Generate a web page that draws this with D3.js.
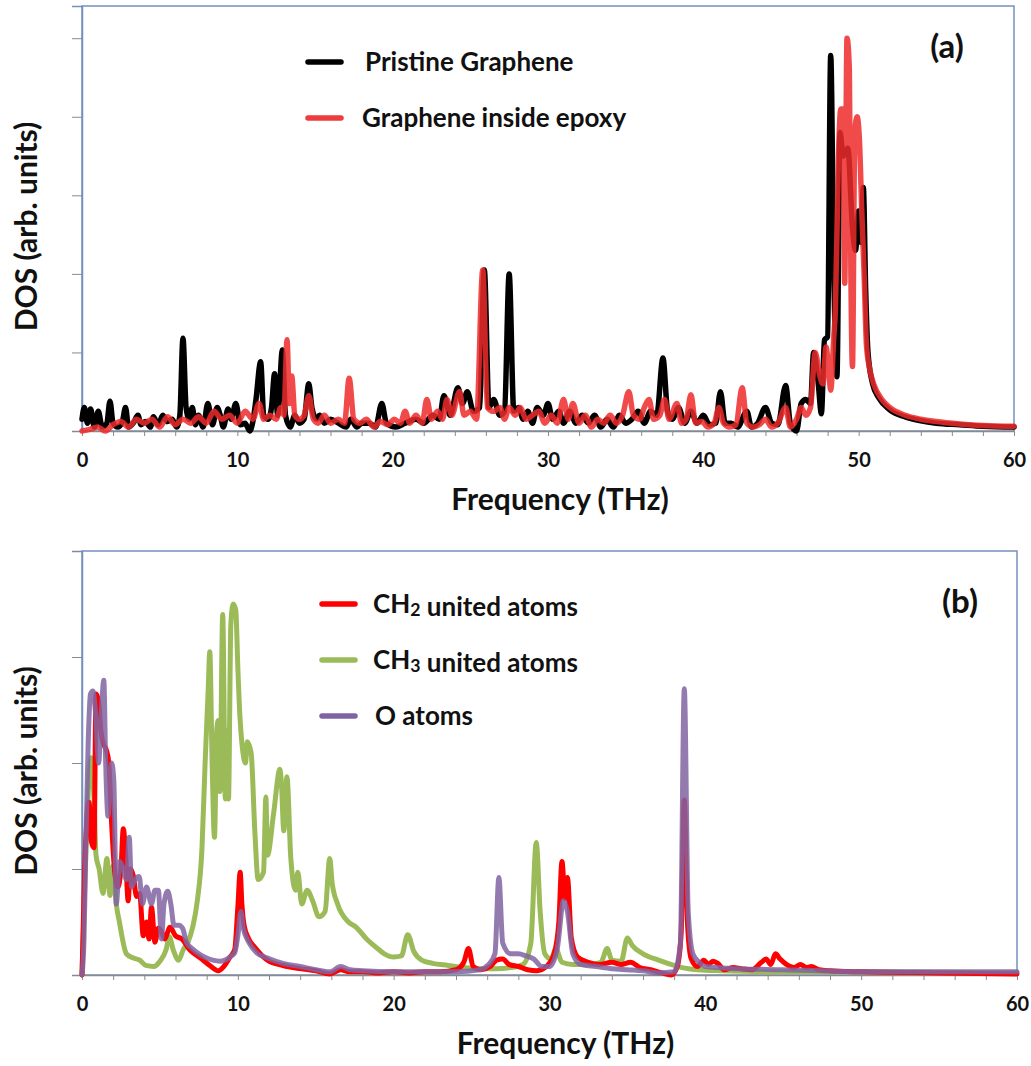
<!DOCTYPE html>
<html><head><meta charset="utf-8">
<script src="https://cdn.jsdelivr.net/npm/d3@7"></script>
<style>
html,body{margin:0;padding:0;background:#fff;}
svg text{font-family:Lato,"Open Sans",sans-serif;font-weight:bold;fill:#111;}
</style></head>
<body><svg id="chart" width="1031" height="1066"></svg>
<script>
// ---------- DATA ----------
const xTickValues = [0,2,4,6,8,10,12,14,16,18,20,22,24,26,28,30,32,34,36,38,40,42,44,46,48,50,52,54,56,58,60];
const xTickLabels = [0,10,20,30,40,50,60];
const yTicksA = [0,1,2,3,4,5];
const yTicksB = [0,1,2,3,4];

const seriesNamesA = ["Pristine Graphene","Graphene inside epoxy"];
const seriesNamesB = ["CH2 united atoms","CH3 united atoms","O atoms"];

// Panel (a) : [frequency THz, DOS]
const pristine = [[0,0.15],[0.15,0.3],[0.35,0.1],[0.55,0.28],[0.8,0.05],[1.05,0.25],[1.3,0.05],[1.6,0.1],[1.8,0.38],[2.0,0.1],[2.3,0.05],[2.6,0.12],[2.8,0.3],[3.0,0.05],[3.3,0.1],[3.6,0.2],[3.8,0.08],[4.1,0.12],[4.4,0.05],[4.6,0.18],[4.9,0.08],[5.2,0.2],[5.5,0.12],[5.8,0.15],[6.1,0.05],[6.3,0.2],[6.5,1.18],[6.7,0.3],[6.9,0.15],[7.1,0.3],[7.3,0.08],[7.5,0.2],[7.8,0.05],[8.1,0.35],[8.4,0.08],[8.7,0.3],[8.9,0.2],[9.1,0.05],[9.4,0.28],[9.6,0.15],[9.9,0.35],[10.2,0.08],[10.5,0.1],[10.8,0.0],[11.0,0.12],[11.2,0.4],[11.5,0.88],[11.7,0.2],[12.0,0.15],[12.2,0.3],[12.4,0.73],[12.6,0.2],[12.9,1.03],[13.1,0.2],[13.4,0.05],[13.7,0.2],[14.0,0.1],[14.3,0.15],[14.6,0.6],[14.8,0.3],[15.1,0.15],[15.3,0.2],[15.6,0.1],[16.0,0.15],[16.5,0.1],[17.0,0.05],[17.3,0.15],[17.7,0.05],[18.0,0.1],[18.5,0.1],[18.9,0.05],[19.3,0.35],[19.6,0.1],[20.2,0.05],[20.8,0.1],[21.5,0.15],[22.0,0.1],[22.6,0.2],[23.0,0.15],[23.3,0.45],[23.7,0.2],[24.2,0.55],[24.5,0.35],[24.8,0.5],[25.2,0.25],[25.6,0.3],[25.9,2.05],[26.2,0.3],[26.5,0.4],[26.9,0.2],[27.2,0.25],[27.5,2.0],[27.8,0.25],[28.1,0.3],[28.4,0.15],[28.7,0.25],[29.0,0.1],[29.3,0.3],[29.7,0.2],[30.0,0.35],[30.3,0.15],[30.7,0.25],[31.0,0.1],[31.4,0.25],[31.8,0.1],[32.2,0.2],[32.6,0.1],[33.0,0.2],[33.4,0.05],[33.8,0.15],[34.2,0.05],[34.6,0.2],[35.0,0.1],[35.4,0.15],[35.8,0.25],[36.2,0.1],[36.6,0.25],[37.0,0.2],[37.4,0.93],[37.7,0.25],[38.0,0.15],[38.4,0.3],[38.8,0.1],[39.2,0.25],[39.6,0.1],[40.0,0.2],[40.4,0.08],[40.8,0.1],[41.1,0.5],[41.4,0.1],[41.8,0.1],[42.2,0.05],[42.8,0.25],[43.1,0.05],[43.5,0.1],[44.0,0.3],[44.4,0.1],[44.8,0.08],[45.3,0.58],[45.6,0.1],[46.0,0.0],[46.3,0.35],[46.6,0.4],[46.9,0.35],[47.1,1.0],[47.4,0.6],[47.6,0.22],[47.8,1.16],[48.0,1.2],[48.2,4.78],[48.4,2.0],[48.6,0.69],[48.8,3.8],[49.0,3.5],[49.3,3.6],[49.6,2.6],[49.8,2.3],[50.0,2.8],[50.15,2.4],[50.3,3.1],[50.45,1.8],[50.6,1.0],[50.9,0.6],[51.3,0.42],[52.0,0.27],[53.0,0.18],[54.0,0.13],[55.0,0.1],[56.5,0.08],[58.0,0.06],[60.0,0.05]];

const epoxy = [[0,0.0],[0.5,0.02],[1,0.05],[1.5,0.0],[2,0.08],[2.5,0.12],[3,0.05],[3.5,0.15],[4,0.1],[4.5,0.15],[5,0.05],[5.5,0.18],[6,0.08],[6.5,0.15],[7,0.1],[7.5,0.18],[8,0.1],[8.5,0.25],[9,0.15],[9.5,0.2],[10,0.1],[10.5,0.25],[11,0.15],[11.4,0.35],[11.7,0.15],[12.1,0.2],[12.5,0.15],[12.8,0.3],[13.0,0.2],[13.2,1.16],[13.35,0.35],[13.5,0.7],[13.7,0.2],[14.0,0.15],[14.3,0.2],[14.6,0.45],[14.9,0.15],[15.2,0.1],[15.6,0.2],[16.0,0.1],[16.5,0.15],[16.9,0.1],[17.2,0.67],[17.5,0.15],[17.9,0.1],[18.3,0.15],[18.8,0.05],[19.2,0.12],[19.7,0.08],[20.1,0.15],[20.5,0.1],[20.8,0.25],[21.1,0.1],[21.5,0.2],[21.9,0.1],[22.2,0.4],[22.5,0.15],[22.9,0.25],[23.2,0.15],[23.5,0.4],[23.8,0.2],[24.3,0.5],[24.6,0.2],[25.0,0.25],[25.4,0.15],[25.8,2.05],[26.1,0.3],[26.5,0.25],[26.9,0.3],[27.2,0.15],[27.5,0.3],[27.9,0.2],[28.2,0.3],[28.6,0.15],[29.0,0.2],[29.4,0.25],[29.8,0.1],[30.2,0.2],[30.6,0.1],[31.0,0.4],[31.3,0.15],[31.6,0.35],[32.0,0.1],[32.4,0.2],[32.8,0.05],[33.2,0.15],[33.6,0.1],[34.0,0.2],[34.4,0.1],[34.8,0.2],[35.2,0.5],[35.5,0.2],[35.9,0.15],[36.2,0.3],[36.5,0.4],[36.8,0.15],[37.2,0.2],[37.5,0.4],[37.8,0.15],[38.3,0.35],[38.6,0.1],[38.9,0.15],[39.2,0.46],[39.5,0.1],[39.9,0.12],[40.3,0.05],[40.7,0.1],[41.0,0.3],[41.3,0.1],[41.7,0.05],[42.1,0.08],[42.5,0.55],[42.8,0.1],[43.2,0.05],[43.6,0.08],[44.0,0.15],[44.4,0.05],[44.8,0.1],[45.3,0.3],[45.6,0.05],[46.0,0.15],[46.3,0.3],[46.6,0.2],[46.9,0.3],[47.2,1.0],[47.5,0.7],[47.7,0.6],[47.9,1.07],[48.1,0.7],[48.2,0.52],[48.4,1.2],[48.5,1.54],[48.7,3.5],[48.85,4.1],[49.0,4.1],[49.1,1.88],[49.25,5.0],[49.4,4.6],[49.5,2.0],[49.6,0.82],[49.75,3.8],[49.9,4.0],[50.05,3.7],[50.2,2.8],[50.35,2.0],[50.5,1.1],[50.7,0.8],[51.0,0.58],[51.5,0.4],[52.0,0.3],[53.0,0.2],[54.0,0.15],[55.0,0.12],[56.5,0.09],[58.0,0.07],[60.0,0.06]];

// Panel (b)
const ch2 = [[0,0],[0.17,1.0],[0.3,1.43],[0.45,1.63],[0.6,1.26],[0.77,1.2],[0.9,2.65],[1.07,2.58],[1.2,2.32],[1.35,2.19],[1.57,2.12],[1.72,2.0],[1.9,1.43],[2.1,0.97],[2.3,0.83],[2.5,1.0],[2.65,1.38],[2.8,1.13],[2.96,0.7],[3.1,1.0],[3.3,0.93],[3.5,0.74],[3.7,0.77],[3.93,0.37],[4.14,0.5],[4.3,0.34],[4.46,0.64],[4.68,0.31],[4.9,0.44],[5.1,0.41],[5.3,0.34],[5.65,0.45],[6.0,0.37],[6.4,0.34],[6.9,0.24],[7.6,0.16],[8.2,0.09],[8.75,0.04],[9.1,0.08],[9.5,0.17],[9.8,0.24],[10.0,0.64],[10.15,0.97],[10.26,0.67],[10.4,0.47],[10.7,0.34],[11.1,0.26],[11.9,0.14],[12.9,0.09],[14.0,0.06],[15.0,0.04],[15.9,0.01],[16.6,0.05],[17.2,0.03],[18,0.03],[19,0.02],[20,0.03],[21,0.02],[22,0.03],[23,0.03],[24,0.05],[24.5,0.12],[24.8,0.25],[25.1,0.08],[25.6,0.05],[26.2,0.08],[26.6,0.14],[27.0,0.15],[27.4,0.1],[28,0.08],[28.6,0.05],[29.2,0.04],[29.8,0.08],[30.3,0.2],[30.6,0.5],[30.8,1.07],[31.0,0.72],[31.15,0.92],[31.4,0.35],[31.8,0.17],[32.5,0.12],[33.2,0.1],[34,0.12],[34.6,0.1],[35.2,0.12],[35.8,0.07],[36.5,0.05],[37.2,0.02],[37.8,0.0],[38.2,0.08],[38.45,0.4],[38.65,1.65],[38.85,0.5],[39.1,0.15],[39.5,0.08],[39.9,0.14],[40.2,0.1],[40.5,0.13],[40.8,0.11],[41.2,0.05],[41.8,0.07],[42.3,0.06],[43.0,0.05],[43.6,0.12],[43.9,0.15],[44.2,0.1],[44.5,0.2],[44.8,0.15],[45.2,0.1],[45.7,0.07],[46.1,0.1],[46.5,0.07],[46.8,0.08],[47.3,0.05],[48,0.04],[50,0.03],[55,0.02],[60,0.01]];

const ch3 = [[0,0],[0.3,1.4],[0.6,2.05],[0.77,1.66],[0.9,1.13],[1.1,1.0],[1.35,0.77],[1.6,1.1],[1.8,0.75],[2.0,1.03],[2.2,0.67],[2.4,0.5],[2.85,0.2],[3.3,0.16],[3.7,0.14],[4.1,0.09],[4.6,0.08],[5.0,0.13],[5.4,0.24],[5.6,0.36],[5.85,0.24],[6.2,0.14],[6.5,0.24],[6.8,0.31],[7.1,0.45],[7.4,0.7],[7.7,1.2],[7.9,2.0],[8.1,2.7],[8.2,3.05],[8.35,2.0],[8.5,1.3],[8.65,2.32],[8.75,2.4],[8.85,1.73],[9.03,3.4],[9.2,1.66],[9.3,2.3],[9.4,1.66],[9.55,3.3],[9.7,3.5],[9.87,3.44],[10.0,2.9],[10.15,2.4],[10.5,2.0],[10.6,2.2],[10.85,2.1],[11.1,1.33],[11.3,0.9],[11.65,0.97],[11.8,1.68],[11.9,1.13],[12.3,1.53],[12.7,1.94],[12.8,1.8],[12.95,1.36],[13.15,1.87],[13.4,1.1],[13.7,0.8],[13.85,0.97],[14.1,0.67],[14.45,0.8],[14.8,0.7],[15.2,0.55],[15.6,0.6],[15.9,1.1],[16.05,0.87],[16.4,0.67],[17.1,0.5],[17.6,0.45],[18.2,0.35],[18.8,0.27],[19.4,0.2],[20.0,0.17],[20.5,0.18],[20.9,0.38],[21.3,0.22],[21.8,0.14],[22.5,0.11],[23.5,0.09],[24.5,0.07],[25.5,0.06],[26.5,0.06],[27.5,0.07],[28.3,0.1],[28.8,0.3],[29.15,1.25],[29.4,0.6],[29.7,0.2],[30.1,0.15],[30.4,0.25],[30.8,0.12],[31.5,0.1],[32.5,0.1],[33.3,0.12],[33.7,0.25],[34.0,0.14],[34.6,0.13],[35.0,0.35],[35.3,0.28],[36.0,0.2],[37.0,0.14],[38.0,0.09],[38.5,0.07],[39.5,0.05],[41,0.04],[45,0.03],[50,0.03],[60,0.02]];

const oAtoms = [[0,0],[0.13,0.34],[0.24,1.17],[0.39,2.15],[0.54,2.65],[0.7,2.68],[0.88,2.45],[1.07,2.0],[1.24,2.48],[1.4,2.78],[1.52,2.0],[1.67,1.5],[1.9,2.0],[2.04,1.84],[2.2,0.67],[2.42,1.07],[2.64,1.0],[2.85,0.9],[3.03,1.3],[3.18,0.83],[3.4,0.9],[3.67,0.93],[3.88,0.67],[4.14,0.83],[4.46,0.67],[4.68,0.8],[4.9,0.8],[5.1,0.34],[5.26,0.67],[5.5,0.79],[5.7,0.67],[5.9,0.47],[6.2,0.47],[6.46,0.44],[6.7,0.31],[7.15,0.24],[7.6,0.19],[8.0,0.16],[8.4,0.14],[8.85,0.13],[9.5,0.17],[9.8,0.21],[10.0,0.37],[10.2,0.6],[10.35,0.44],[10.7,0.31],[11.2,0.21],[11.9,0.16],[12.9,0.11],[14.0,0.08],[15.0,0.05],[15.9,0.03],[16.6,0.08],[17.2,0.05],[18,0.04],[20,0.03],[22,0.03],[24,0.03],[25.5,0.05],[26.1,0.1],[26.5,0.2],[26.75,0.92],[27.0,0.3],[27.5,0.2],[28.0,0.2],[28.5,0.18],[29.0,0.15],[29.5,0.08],[30.0,0.08],[30.5,0.25],[30.9,0.7],[31.15,0.6],[31.5,0.2],[32.0,0.1],[33,0.08],[34,0.06],[35,0.05],[36,0.04],[37,0.02],[38.0,0.03],[38.4,0.3],[38.65,2.7],[38.9,0.6],[39.2,0.2],[39.6,0.12],[40,0.08],[42,0.06],[45,0.05],[50,0.03],[60,0.03]];

// ---------- DRAW ----------
const svg = d3.select("#chart");
const frameColor = "#7590c0";
const tickColor = "#8a8a8a";

function panel(cfg){
  const g = svg.append("g");
  const x = d3.scaleLinear().domain([0,60]).range([cfg.left,cfg.right]);
  const y = d3.scaleLinear().domain([0,cfg.yMax]).range([cfg.bottom,cfg.top]);
  g.append("rect").attr("x",cfg.left).attr("y",cfg.top)
    .attr("width",cfg.right-cfg.left).attr("height",cfg.bottom-cfg.top)
    .attr("fill","none").attr("stroke",frameColor).attr("stroke-width",1.5);
  const ya = g.append("g").attr("transform",`translate(${cfg.left},0)`)
    .call(d3.axisLeft(y).tickValues(cfg.yTicks).tickSize(10).tickFormat(""));
  ya.select(".domain").attr("stroke",frameColor).attr("stroke-width",1.5);
  ya.selectAll(".tick line").attr("stroke",tickColor);
  const xa = g.append("g").attr("transform",`translate(0,${cfg.bottom})`)
    .call(d3.axisBottom(x).tickValues(xTickValues).tickSize(5).tickSizeOuter(0)
      .tickFormat(d => xTickLabels.includes(d) ? d : ""));
  xa.select(".domain").attr("stroke",tickColor).attr("stroke-width",1.5);
  xa.selectAll(".tick line").attr("stroke",tickColor);
  xa.selectAll(".tick text").attr("font-size",20).attr("dy",0).attr("y",cfg.tickLabelDy)
    .style("font-family","Lato, 'Open Sans', sans-serif").style("font-weight","bold").attr("fill","#111");
  g.append("text").attr("x",(cfg.left+cfg.right)/2 + cfg.titleDx).attr("y",cfg.bottom+cfg.titleDy)
    .attr("text-anchor","middle").attr("font-size",30).text("Frequency (THz)");
  g.append("text").attr("transform",`translate(${cfg.yTitleX},${(cfg.top+cfg.bottom)/2 + 8}) rotate(-90)`)
    .attr("text-anchor","middle").attr("font-size",30).text("DOS (arb. units)");
  g.append("text").attr("x",cfg.tagX).attr("y",cfg.tagY).attr("text-anchor","middle")
    .attr("font-size",33).text(cfg.tag);
  const line = d3.line().x(d=>x(d[0])).y(d=>y(d[1])).curve(d3.curveMonotoneX);
  cfg.series.forEach(s=>{
    g.append("path").datum(s.data).attr("d",line).attr("fill","none")
      .attr("stroke",s.color).attr("stroke-width",s.width).attr("stroke-opacity",s.opacity)
      .attr("stroke-linejoin","round").attr("stroke-linecap","round");
  });
  cfg.legend.forEach((l,i)=>{
    const ly = cfg.legY + i*cfg.legStep;
    g.append("line").attr("x1",cfg.legX).attr("x2",cfg.legX+33).attr("y1",ly).attr("y2",ly)
      .attr("stroke",l.color).attr("stroke-width",5.5).attr("stroke-linecap","round");
    const t = g.append("text").attr("x",cfg.legX+l.dx).attr("y",ly+9).attr("font-size",cfg.legFont);
    l.parts.forEach(p=>{
      if(p.sub){ t.append("tspan").attr("font-size",cfg.legFont*0.68).attr("dy",3).text(p.t);
                 t.append("tspan").attr("dy",-3).text(""); }
      else t.append("tspan").text(p.t);
    });
  });
}

panel({left:82,right:1014,top:6,bottom:431,yMax:5.41,yTicks:yTicksA,
  tickLabelDy:36,titleDy:79,titleDx:12,yTitleX:37,tag:"(a)",tagX:947,tagY:58,
  series:[{data:pristine,color:"#000",width:5.5,opacity:1},
          {data:epoxy,color:"#ee2a2a",width:5.5,opacity:0.85}],
  legX:308,legY:62,legStep:56,legFont:26,
  legend:[{color:"#000",dx:57,parts:[{t:seriesNamesA[0]}]},
          {color:"#ee3b3b",dx:54,parts:[{t:seriesNamesA[1]}]}]});

panel({left:82,right:1017,top:551,bottom:975,yMax:4,yTicks:yTicksB,
  tickLabelDy:36,titleDy:79,titleDx:16,yTitleX:37,tag:"(b)",tagX:960,tagY:613,
  series:[{data:ch3,color:"#9bbb59",width:5,opacity:1},
          {data:ch2,color:"#ff0000",width:5,opacity:1},
          {data:oAtoms,color:"#8064a2",width:5,opacity:0.85}],
  legX:322,legY:604,legStep:56,legFont:26,
  legend:[{color:"#ff0000",dx:51,parts:[{t:"CH"},{t:"2",sub:true},{t:" united atoms"}]},
          {color:"#9bbb59",dx:51,parts:[{t:"CH"},{t:"3",sub:true},{t:" united atoms"}]},
          {color:"#8064a2",dx:53,parts:[{t:"O atoms"}]}]});
</script>
</body></html>
